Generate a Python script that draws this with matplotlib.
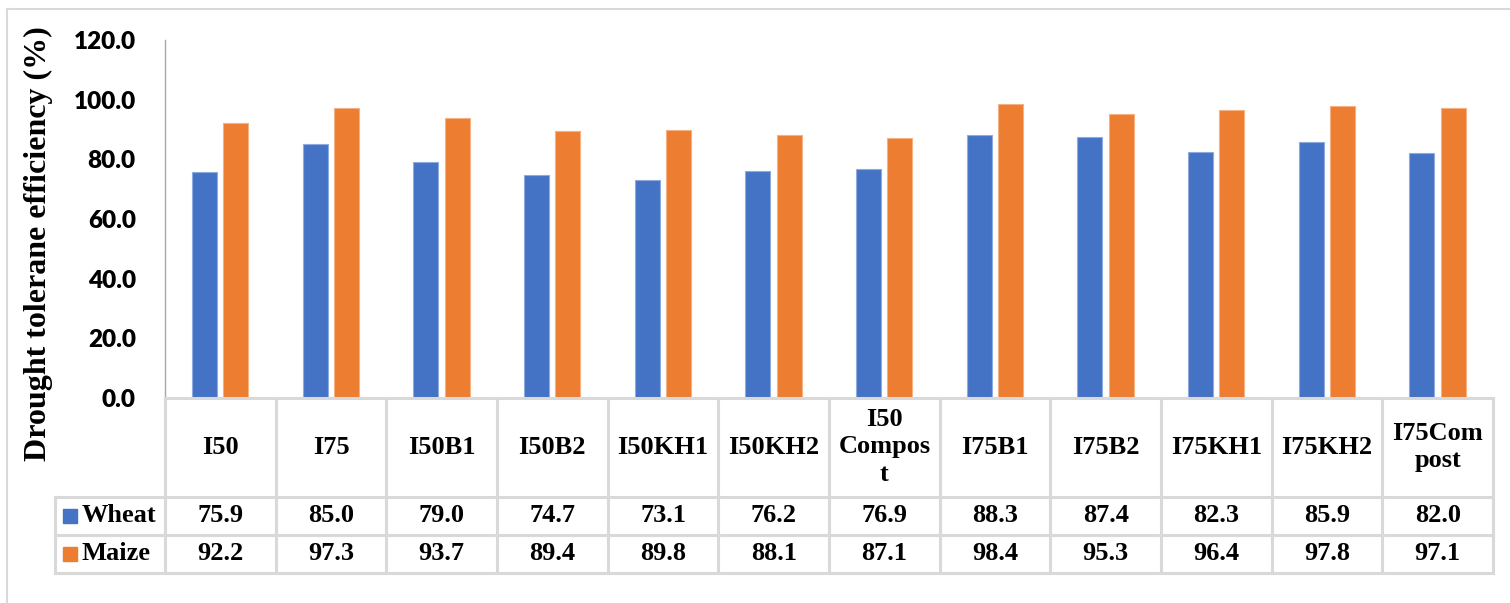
import matplotlib
matplotlib.use("Agg")
import matplotlib.pyplot as plt
from matplotlib.transforms import blended_transform_factory
from matplotlib.lines import Line2D
from matplotlib.patches import Rectangle

# Data
categories = ["I50", "I75", "I50B1", "I50B2", "I50KH1", "I50KH2", "I50\nCompos\nt",
              "I75B1", "I75B2", "I75KH1", "I75KH2", "I75Com\npost"]
series_names = ["Wheat", "Maize"]
wheat = [75.9, 85.0, 79.0, 74.7, 73.1, 76.2, 76.9, 88.3, 87.4, 82.3, 85.9, 82.0]
maize = [92.2, 97.3, 93.7, 89.4, 89.8, 88.1, 87.1, 98.4, 95.3, 96.4, 97.8, 97.1]
y_ticks = [0, 20, 40, 60, 80, 100, 120]
y_label = "Drought tolerane efficiency (%)"

colors = ["#4472C4", "#ED7D31"]
edges = ["#8FAADC", "#F4B183"]
grid_col = "#D9D9D9"

W, H = 1510, 603
fig = plt.figure(figsize=(W / 100, H / 100), dpi=100)


def fx(px):
    return px / W


def fy(py):
    return 1 - py / H


x_left, x_right = 165, 1493
y_top, y_bot = 40, 398
ax = fig.add_axes([fx(x_left), fy(y_bot), fx(x_right) - fx(x_left), fy(y_top) - fy(y_bot)])

n = len(categories)
xs = list(range(n))
bw = 0.225
ax.bar([x - 0.144 for x in xs], wheat, width=bw, color=colors[0], edgecolor=edges[0], linewidth=0.8, zorder=3)
ax.bar([x + 0.14 for x in xs], maize, width=bw, color=colors[1], edgecolor=edges[1], linewidth=0.8, zorder=3)

ax.set_xlim(-0.5, n - 0.5)
ax.set_ylim(0, 120)
ax.set_yticks(y_ticks)
ax.set_yticklabels([f"{v:.1f}" for v in y_ticks], fontfamily="Lato", fontweight="heavy", fontsize=17.5)
ax.tick_params(axis="y", length=0, pad=21)
ax.set_xticks([])
for s in ["top", "right", "bottom"]:
    ax.spines[s].set_visible(False)
ax.spines["left"].set_color("#A6A6A6")
ax.spines["left"].set_linewidth(1.0)

# Y label
fig.text(fx(38), fy(244), y_label, rotation=90, ha="center", va="center",
         fontfamily="Liberation Serif", fontweight="bold", fontsize=23)

# Data table below the plot
trans = blended_transform_factory(ax.transData, fig.transFigure)
row_lines = [398, 497, 535, 573]
tfont = dict(fontfamily="Liberation Serif", fontweight="bold", fontsize=19)

# horizontal lines
fig.add_artist(Line2D([fx(x_left), fx(x_right)], [fy(398), fy(398)], color=grid_col, lw=2.2))
for py in row_lines[1:]:
    fig.add_artist(Line2D([fx(55), fx(x_right)], [fy(py), fy(py)], color=grid_col, lw=2.2))
# vertical lines
for k in range(n + 1):
    ax.plot([k - 0.5, k - 0.5], [fy(398), fy(573)], transform=trans, color=grid_col, lw=2.2, clip_on=False)
fig.add_artist(Line2D([fx(55), fx(55)], [fy(497), fy(573)], color=grid_col, lw=2.2))

# header cells
for x, c in zip(xs, categories):
    ax.text(x, fy(447), c, transform=trans, ha="center", va="center", linespacing=1.25, **tfont)

# value rows with legend keys
row_centers = [516, 554]
for name, vals, col, rc in zip(series_names, [wheat, maize], colors, row_centers):
    fig.add_artist(Rectangle((fx(63), fy(rc + 7)), fx(14), 14 / H, color=col))
    fig.text(fx(82), fy(rc), name, ha="left", va="center", **tfont)
    for x, v in zip(xs, vals):
        ax.text(x, fy(rc), f"{v:.1f}", transform=trans, ha="center", va="center", **tfont)

# outer chart frame
fig.add_artist(Line2D([fx(7), fx(7)], [fy(9), 0], color=grid_col, lw=1.5))
fig.add_artist(Line2D([fx(7), 1], [fy(9), fy(9)], color=grid_col, lw=1.5))

fig.savefig("out.png", dpi=100)
